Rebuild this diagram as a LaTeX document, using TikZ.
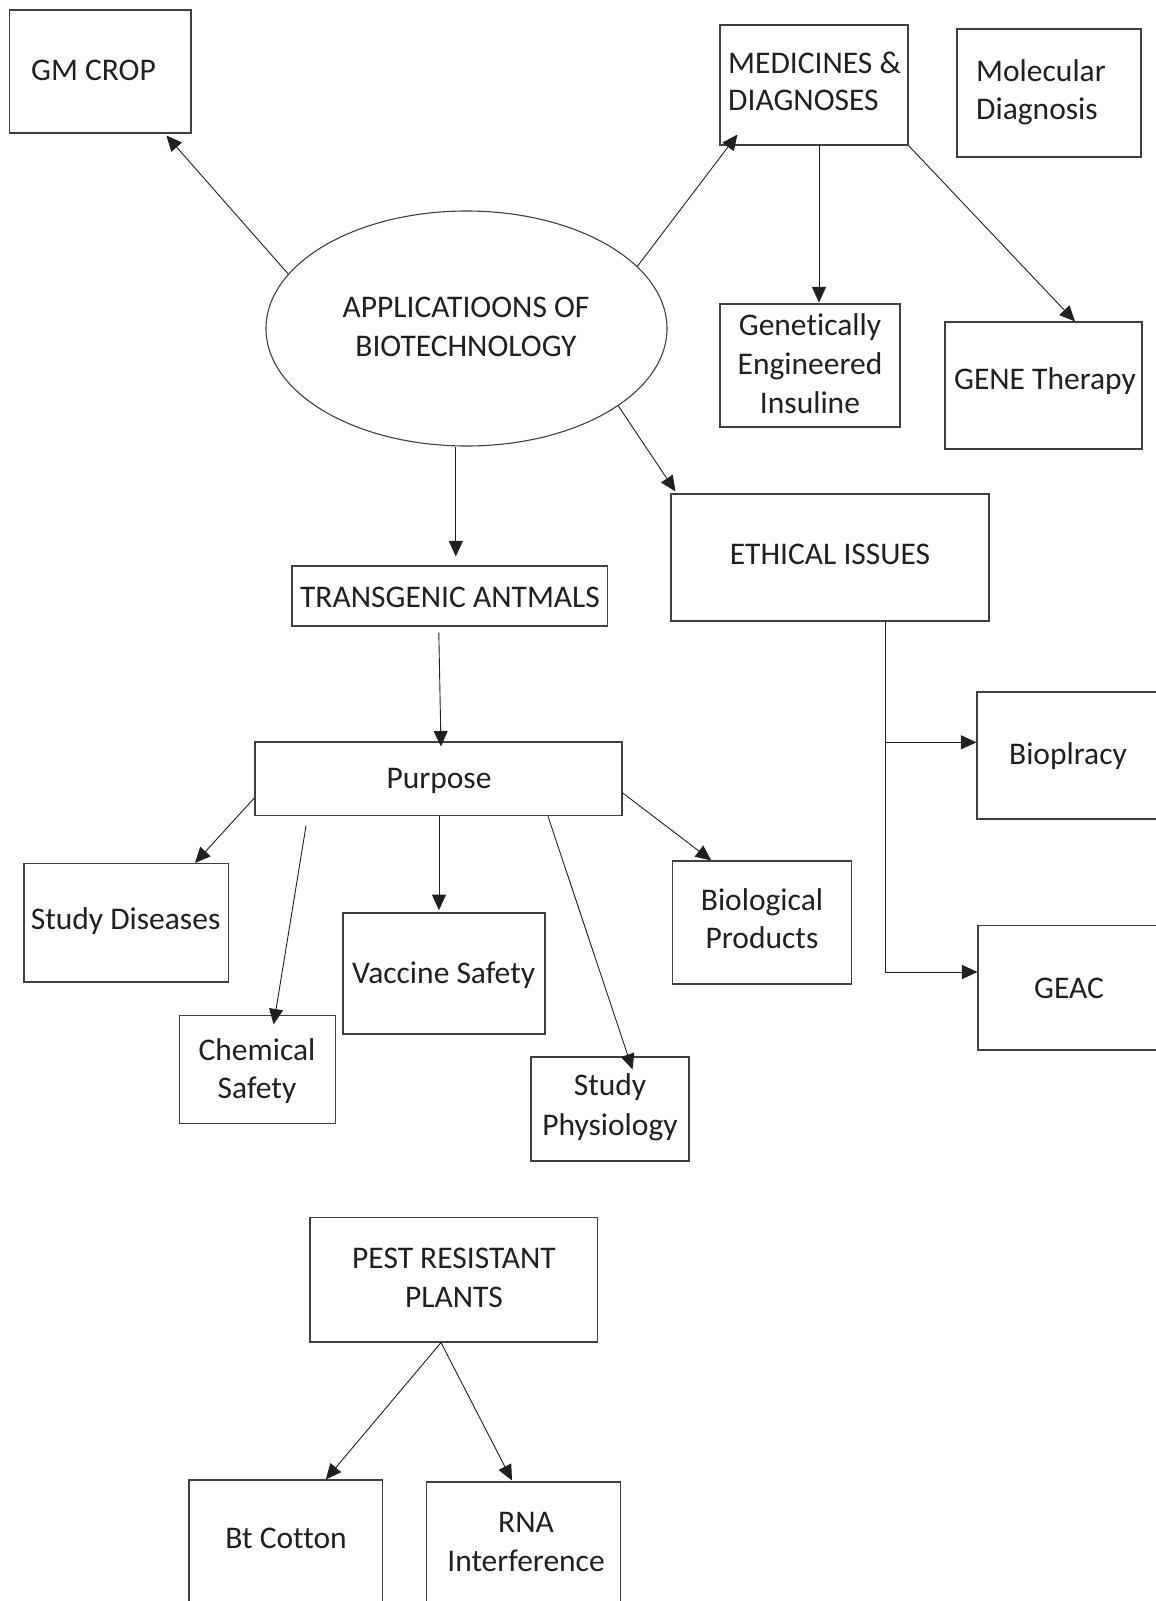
\documentclass[tikz,border=0pt]{standalone}
\usepackage{fontspec}
\setmainfont{Carlito}[Ligatures={NoCommon,NoRare,NoContextual}]
\usetikzlibrary{arrows.meta,shapes.geometric}
\definecolor{ink}{HTML}{231F20}
\begin{document}
\begin{tikzpicture}[x=1pt,y=-1pt,
  box/.style={draw=black!75, line width=1.1pt, rectangle, inner sep=0pt},
  oval/.style={draw=black!75, line width=1.1pt, ellipse, inner sep=0pt},
  txt/.style={text=ink, font=\fontsize{31.5}{38}\selectfont, inner sep=0pt, anchor=base},
  txtl/.style={txt, anchor=base west},
  arr/.style={draw=ink, line width=0.9pt, -{Triangle[length=15.5pt,width=14pt]}}]
\useasboundingbox (0,0) rectangle (1156,1601);
\fill[white] (0,0) rectangle (1156,1601);

% shapes
\node[oval, minimum width=401pt, minimum height=235pt] (app) at (466.5,328.5) {};
\node[box, minimum width=181.5pt, minimum height=123pt] (gm) at (100.25,71.5) {};
\node[box, minimum width=188pt, minimum height=120pt] (med) at (814,85) {};
\node[box, minimum width=184pt, minimum height=128pt] (mol) at (1049,93) {};
\node[box, minimum width=180pt, minimum height=123pt] (gen) at (810,365.5) {};
\node[box, minimum width=197pt, minimum height=127pt] (gene) at (1043.5,385.5) {};
\node[box, minimum width=315.6pt, minimum height=60pt] (trans) at (449.8,596) {};
\node[box, minimum width=318pt, minimum height=127pt] (eth) at (830,557.5) {};
\node[box, minimum width=367pt, minimum height=73.7pt] (pur) at (438.5,778.85) {};
\node[box, minimum width=204.6pt, minimum height=118.5pt] (sd) at (126.3,922.75) {};
\node[box, minimum width=156pt, minimum height=108pt] (chem) at (257.5,1069.7) {};
\node[box, minimum width=202pt, minimum height=121pt] (vac) at (444,973.5) {};
\node[box, minimum width=158pt, minimum height=104pt] (phys) at (610,1109) {};
\node[box, minimum width=179.1pt, minimum height=123pt] (bio) at (762.25,922.5) {};
\node[box, minimum width=193pt, minimum height=127pt] (biop) at (1073.5,755.5) {};
\node[box, minimum width=192pt, minimum height=124.5pt] (geac) at (1074,987.75) {};
\node[box, minimum width=287.5pt, minimum height=124.5pt] (pest) at (453.75,1279.75) {};
\node[box, minimum width=193.7pt, minimum height=140pt] (bt) at (285.85,1550) {};
\node[box, minimum width=194pt, minimum height=138pt] (rna) at (523.7,1551) {};

% texts
\node[txt] (gmt) at (93.5,80) {GM CROP};
\node[txt] (appt1) at (466,317) {APPLICATIOONS OF};
\node[txt] (appt2) at (466,356) {BIOTECHNOLOGY};
\node[txtl] (medt1) at (728,73) {MEDICINES \&};
\node[txtl] (medt2) at (728,110) {DIAGNOSES};
\node[txtl] (molt1) at (976,81) {Molecular};
\node[txtl] (molt2) at (976,119) {Diagnosis};
\node[txt] (gent1) at (810,335) {Genetically};
\node[txt] (gent2) at (810,374) {Engineered};
\node[txt] (gent3) at (810,413) {Insuline};
\node[txt] (genet) at (1045,389) {GENE Therapy};
\node[txt] (transt) at (450,607) {TRANSGENIC ANTMALS};
\node[txt] (etht) at (830,564) {ETHICAL ISSUES};
\node[txt] (purt) at (439,788) {Purpose};
\node[txt] (biopt) at (1068,764.5) {Bioplracy};
\node[txt] (geact) at (1069,998) {GEAC};
\node[txt] (biot1) at (762,910) {Biological};
\node[txt] (biot2) at (762,948) {Products};
\node[txt] (sdt) at (125.6,929) {Study Diseases};
\node[txt] (chemt1) at (257,1060) {Chemical};
\node[txt] (chemt2) at (257,1098) {Safety};
\node[txt] (vact) at (443.6,983) {Vaccine Safety};
\node[txt] (physt1) at (610,1095) {Study};
\node[txt] (physt2) at (610,1135) {Physiology};
\node[txt] (pestt1) at (454,1268) {PEST RESISTANT};
\node[txt] (pestt2) at (454,1307) {PLANTS};
\node[txt] (btt) at (286,1548) {Bt Cotton};
\node[txt] (rnat1) at (526,1532) {RNA};
\node[txt] (rnat2) at (526,1571) {Interference};

% connectors
\draw[arr] (app.163) -- ([xshift=157.5pt,yshift=-2pt]gm.south west);
\draw[arr] (app.20) -- ([xshift=18pt,yshift=11pt]med.south west);
\draw[arr] ([xshift=5pt]med.south) -- ([xshift=9pt,yshift=1pt]gen.north);
\draw[arr] (med.south east) -- ([xshift=31.5pt]gene.north);
\draw[arr] ([xshift=-10.7pt]app.south) -- ([xshift=6pt,yshift=9pt]trans.north);
\draw[arr] (app.-27.7) -- ([xshift=5pt,yshift=2pt]eth.north west);
\draw[arr] ([xshift=-11pt,yshift=-6pt]trans.south) -- ([xshift=2.5pt,yshift=-5pt]pur.north);
\draw[arr] ([xshift=55.5pt]eth.south) |- ([yshift=13.2pt]biop.west);
\draw[arr] ([xshift=55.5pt]eth.south) |- ([yshift=15.75pt]geac.west);
\draw[arr] ([yshift=-19pt]pur.west) -- ([xshift=68.7pt]sd.north);
\draw[arr] ([xshift=51.6pt,yshift=-9.3pt]pur.south west) -- ([xshift=16.1pt,yshift=-9.3pt]chem.north);
\draw[arr] ([xshift=0.5pt]pur.south) -- ([xshift=-5pt,yshift=2.3pt]vac.north);
\draw[arr] ([xshift=109.5pt]pur.south) -- ([xshift=22.5pt,yshift=-13pt]phys.north);
\draw[arr] ([yshift=-14pt]pur.east) -- ([xshift=-51pt]bio.north);
\draw[arr] ([xshift=-12.75pt]pest.south) -- ([xshift=40pt]bt.north);
\draw[arr] ([xshift=-12.75pt]pest.south) -- ([xshift=-11.7pt,yshift=1pt]rna.north);
\end{tikzpicture}
\end{document}
